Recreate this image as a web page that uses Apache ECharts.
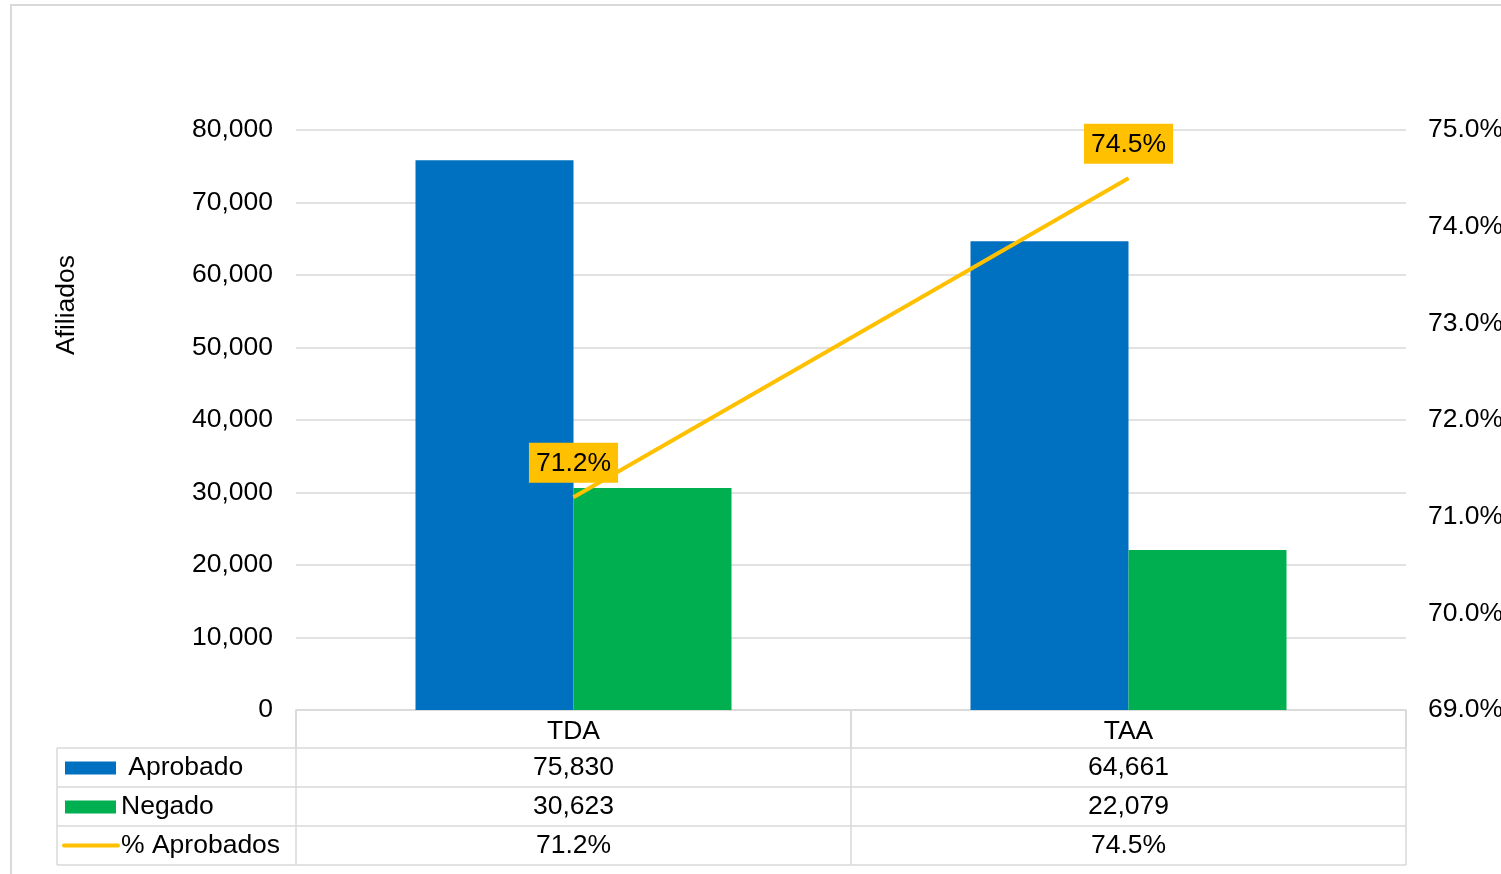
<!DOCTYPE html>
<html>
<head>
<meta charset="utf-8">
<script src="https://cdn.jsdelivr.net/npm/echarts@6/dist/echarts.min.js"></script>
<style>
  html, body { margin: 0; padding: 0; background: #fff; }
  #chart { width: 1501px; height: 874px; }
</style>
</head>
<body>
<div id="chart"></div>
<script>
// datos
const categories = ['TDA', 'TAA'];
const aprobado = [75830, 64661];
const negado = [30623, 22079];
const pctAprobados = [71.2, 74.5];

const FONT = '"Liberation Sans", Arial, sans-serif';
const FS = 26.5;
const BLUE = '#0070C0', GREEN = '#00B050', YELLOW = '#FFC000', GRID = '#d9d9d9';

// geometria de la tabla (debajo del grid)
const gLeft = 296, gRight = 1406, gTop = 130, gBottom = 710;
const tableLeft = 57, rowH = 39;
const rowsY = [748, 787, 826, 865];

const fmtNum = v => v.toLocaleString('en-US');
const fmtPct = v => v.toFixed(1) + '%';

const chart = echarts.init(document.getElementById('chart'));

// tabla de datos con graphic
const graphics = [];
// marco exterior
graphics.push({ type: 'rect', shape: { x: 11, y: 5, width: 1700, height: 1000 },
  style: { fill: 'none', stroke: GRID, lineWidth: 2 }, silent: true });
// titulo eje
graphics.push({ type: 'text', x: 67, y: 305, rotation: Math.PI / 2,
  style: { text: 'Afiliados', font: FS + 'px ' + FONT, fill: '#000', align: 'center', verticalAlign: 'middle' } });

// lineas horizontales
rowsY.forEach(y => {
  graphics.push({ type: 'line', shape: { x1: tableLeft, y1: y, x2: gRight, y2: y },
    style: { stroke: GRID, lineWidth: 1.5 }, silent: true });
});
// lineas verticales
const catW = (gRight - gLeft) / categories.length;
graphics.push({ type: 'line', shape: { x1: tableLeft, y1: rowsY[0], x2: tableLeft, y2: rowsY[3] },
  style: { stroke: GRID, lineWidth: 1.5 } });
for (let i = 0; i <= categories.length; i++) {
  const x = gLeft + i * catW;
  graphics.push({ type: 'line', shape: { x1: x, y1: gBottom, x2: x, y2: rowsY[3] },
    style: { stroke: GRID, lineWidth: 1.5 } });
}

// filas: clave de leyenda + nombre + valores
const rows = [
  { name: ' Aprobado', vals: aprobado.map(fmtNum), key: 'bar', color: BLUE },
  { name: 'Negado', vals: negado.map(fmtNum), key: 'bar', color: GREEN },
  { name: '% Aprobados', vals: pctAprobados.map(fmtPct), key: 'line', color: YELLOW }
];
rows.forEach((r, ri) => {
  const cy = rowsY[ri] + rowH / 2;
  if (r.key === 'bar') {
    graphics.push({ type: 'rect', shape: { x: 65, y: cy - 6, width: 51, height: 13 }, style: { fill: r.color } });
  } else {
    graphics.push({ type: 'line', shape: { x1: 64, y1: cy, x2: 118, y2: cy },
      style: { stroke: r.color, lineWidth: 4, lineCap: 'round' } });
  }
  graphics.push({ type: 'text', x: 121, y: cy,
    style: { text: r.name, font: FS + 'px ' + FONT, fill: '#000', verticalAlign: 'middle' } });
  r.vals.forEach((v, ci) => {
    graphics.push({ type: 'text', x: gLeft + (ci + 0.5) * catW, y: cy,
      style: { text: v, font: FS + 'px ' + FONT, fill: '#000', align: 'center', verticalAlign: 'middle' } });
  });
});

chart.setOption({
  animation: false,
  textStyle: { fontFamily: FONT },
  grid: { left: gLeft, right: 1501 - gRight, top: gTop, bottom: 874 - gBottom,
    containLabel: false, outerBoundsMode: 'none' },
  xAxis: {
    type: 'category',
    data: categories,
    axisLine: { show: true, lineStyle: { color: GRID, width: 1.5 } },
    axisTick: { show: true, length: 38, interval: 0, lineStyle: { color: GRID, width: 1.5 } },
    axisLabel: { color: '#000', fontSize: FS, margin: 8, fontFamily: FONT }
  },
  yAxis: [
    {
      type: 'value', min: 0, max: 80000, interval: 10000,
      axisLine: { show: false }, axisTick: { show: false },
      splitLine: { lineStyle: { color: GRID, width: 1.5 } },
      axisLabel: { color: '#000', fontSize: FS, margin: 23, fontFamily: FONT, formatter: v => fmtNum(v) }
    },
    {
      type: 'value', min: 69, max: 75, interval: 1,
      axisLine: { show: false }, axisTick: { show: false }, splitLine: { show: false },
      axisLabel: { color: '#000', fontSize: FS, margin: 22, fontFamily: FONT, formatter: v => fmtPct(v) }
    }
  ],
  series: [
    { name: 'Aprobado', type: 'bar', data: aprobado, barWidth: 158, barGap: '0%',
      itemStyle: { color: BLUE } },
    { name: 'Negado', type: 'bar', data: negado, barWidth: 158, barGap: '0%',
      itemStyle: { color: GREEN } },
    { name: '% Aprobados', type: 'line', yAxisIndex: 1, data: pctAprobados,
      symbol: 'circle', symbolSize: 1, showSymbol: true,
      lineStyle: { color: YELLOW, width: 4 }, itemStyle: { color: YELLOW },
      label: { show: true, position: 'top', distance: 14, formatter: p => fmtPct(p.value),
        backgroundColor: YELLOW, color: '#000', fontSize: FS, padding: [7, 7, 6, 7], fontFamily: FONT } }
  ],
  graphic: graphics
});
</script>
</body>
</html>
